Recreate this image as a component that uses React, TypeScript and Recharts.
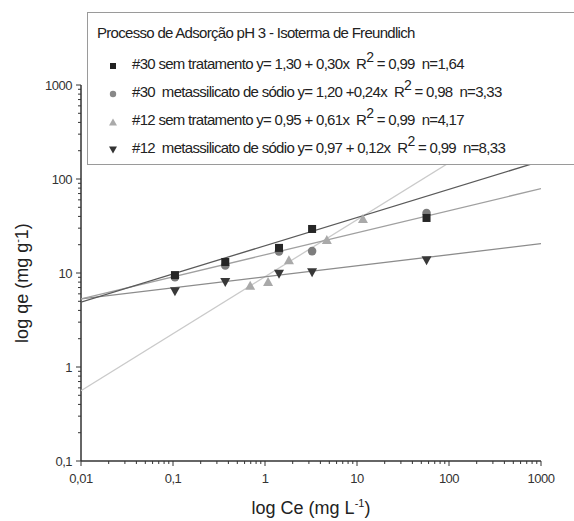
import { ScatterChart, Scatter, XAxis, YAxis } from "recharts";

const FONT = '"Liberation Sans", Arial, sans-serif';

// axis ticks (log decades)
const xMajor = [0.01, 0.1, 1, 10, 100, 1000];
const xMajorLabels = ["0,01", "0,1", "1", "10", "100", "1000"];
const yMajor = [0.1, 1, 10, 100, 1000];
const yMajorLabels = ["0,1", "1", "10", "100", "1000"];
const minorSteps = [2, 3, 4, 5, 6, 7, 8, 9];

// measured points, log Ce vs log qe
const ce30 = [0.105, 0.37, 1.42, 3.25, 57];
const qe30Sem = [9.5, 13.1, 18.5, 29.4, 38.5];
const qe30Meta = [9.0, 12.0, 17.0, 17.1, 43.5];
const qe12Meta = [6.4, 8.0, 9.8, 10.2, 13.7];
const ce12Sem = [0.69, 1.08, 1.82, 4.7, 11.6];
const qe12Sem = [7.3, 8.0, 13.7, 22.4, 37.5];

// fitted lines, read at both ends of the x axis
const fitCe = [0.01, 1000];
const fit30Sem = [4.9, 155];
const fit30Meta = [5.3, 79];
const fit12Sem = [0.56, 600];
const fit12Meta = [5.3, 20.5];

const withMinors = (majors: number[]) => {
  const out = [...majors];
  majors.slice(0, -1).forEach((m) => minorSteps.forEach((s) => out.push(m * s)));
  return out.sort((a, b) => a - b);
};
const xTicks = withMinors(xMajor);
const yTicks = withMinors(yMajor);

const pts = (xs: number[], ys: number[]) => xs.map((x, i) => ({ x, y: ys[i] }));

const XTick = (props: any) => {
  const { x, y, payload } = props;
  const i = xMajor.indexOf(payload.value);
  return (
    <g>
      <line x1={x} x2={x} y1={y} y2={y + (i >= 0 ? 5 : 3)} stroke="#333" strokeWidth={1} />
      {i >= 0 && (
        <text x={x} y={y + 22} textAnchor="middle" fontSize={13} fill="#333" fontFamily={FONT} letterSpacing={-0.5}>
          {xMajorLabels[i]}
        </text>
      )}
    </g>
  );
};

const YTick = (props: any) => {
  const { x, y, payload } = props;
  const i = yMajor.indexOf(payload.value);
  return (
    <g>
      <line x1={x} x2={x - (i >= 0 ? 5 : 3)} y1={y} y2={y} stroke="#333" strokeWidth={1} />
      {i >= 0 && (
        <text x={x - 9} y={y + 4.5} textAnchor="end" fontSize={13} fill="#333" fontFamily={FONT} letterSpacing={-0.5}>
          {yMajorLabels[i]}
        </text>
      )}
    </g>
  );
};

const square = (p: any) => <rect x={p.cx - 4} y={p.cy - 4} width={8} height={8} fill="#262626" />;
const circle = (p: any) => <circle cx={p.cx} cy={p.cy} r={4.3} fill="#7d7d7d" />;
const triUp = (p: any) => (
  <polygon points={`${p.cx - 5},${p.cy + 4} ${p.cx + 5},${p.cy + 4} ${p.cx},${p.cy - 5}`} fill="#a9a9a9" />
);
const triDown = (p: any) => (
  <polygon points={`${p.cx - 5},${p.cy - 4} ${p.cx + 5},${p.cy - 4} ${p.cx},${p.cy + 5}`} fill="#383838" />
);
const none = () => <g />;

const legendRows = [
  { sym: "sq", label: "#30 sem tratamento y= 1,30 + 0,30x", r: "= 0,99", n: "n=1,64" },
  { sym: "ci", label: "#30  metassilicato de sódio y= 1,20 +0,24x", r: "= 0,98", n: "n=3,33" },
  { sym: "up", label: "#12 sem tratamento y= 0,95 + 0,61x", r: "= 0,99", n: "n=4,17" },
  { sym: "dn", label: "#12  metassilicato de sódio y= 0,97 + 0,12x", r: "= 0,99", n: "n=8,33" },
];

const LegendSymbol = ({ sym }: { sym: string }) => (
  <svg width={10} height={10} style={{ position: "absolute", left: 20, top: 6 }}>
    {sym === "sq" && <rect x={2} y={2} width={6} height={6} fill="#222" />}
    {sym === "ci" && <circle cx={5} cy={5} r={3.2} fill="#888" />}
    {sym === "up" && <polygon points="1,8.5 9,8.5 5,1.5" fill="#aaa" />}
    {sym === "dn" && <polygon points="1,1.5 9,1.5 5,8.5" fill="#333" />}
  </svg>
);

export default function App() {
  return (
    <div style={{ position: "fixed", left: 0, top: 0, width: 574, height: 521, overflow: "hidden", background: "#fff" }}>
      <ScatterChart width={574} height={521} margin={{ top: 85, right: 33, bottom: 0, left: 0 }}>
        <XAxis
          dataKey="x"
          type="number"
          scale="log"
          domain={[0.01, 1000]}
          allowDataOverflow
          ticks={xTicks}
          interval={0}
          height={60}
          tickSize={0}
          tickMargin={0}
          tickLine={false}
          tick={<XTick />}
          axisLine={{ stroke: "#333", strokeWidth: 1.5 }}
        />
        <YAxis
          dataKey="y"
          type="number"
          scale="log"
          domain={[0.1, 1000]}
          allowDataOverflow
          ticks={yTicks}
          interval={0}
          width={81}
          tickSize={0}
          tickMargin={0}
          tickLine={false}
          tick={<YTick />}
          axisLine={{ stroke: "#333", strokeWidth: 1.5 }}
        />
        <Scatter data={pts(fitCe, fit12Sem)} line={{ stroke: "#cacaca", strokeWidth: 1.3 }} shape={none} isAnimationActive={false} />
        <Scatter data={pts(fitCe, fit12Meta)} line={{ stroke: "#8c8c8c", strokeWidth: 1.3 }} shape={none} isAnimationActive={false} />
        <Scatter data={pts(fitCe, fit30Meta)} line={{ stroke: "#a0a0a0", strokeWidth: 1.3 }} shape={none} isAnimationActive={false} />
        <Scatter data={pts(fitCe, fit30Sem)} line={{ stroke: "#5a5a5a", strokeWidth: 1.3 }} shape={none} isAnimationActive={false} />
        <Scatter data={pts(ce30, qe30Meta)} shape={circle} isAnimationActive={false} />
        <Scatter data={pts(ce30, qe30Sem)} shape={square} isAnimationActive={false} />
        <Scatter data={pts(ce12Sem, qe12Sem)} shape={triUp} isAnimationActive={false} />
        <Scatter data={pts(ce30, qe12Meta)} shape={triDown} isAnimationActive={false} />
      </ScatterChart>

      <svg width={574} height={521} style={{ position: "absolute", left: 0, top: 0, pointerEvents: "none" }}>
        <text x={311} y={514} textAnchor="middle" fontSize={18} fill="#222" fontFamily={FONT}>
          log Ce (mg L<tspan fontSize={11} dy={-7}>-1</tspan>
          <tspan dy={7}>)</tspan>
        </text>
        <text
          transform="translate(28,283) rotate(-90)"
          textAnchor="middle"
          fontSize={18}
          fill="#222"
          fontFamily={FONT}
        >
          log qe (mg g<tspan fontSize={11} dy={-7}>-</tspan>
          <tspan dy={7}>1)</tspan>
        </text>
      </svg>

      <div
        style={{
          position: "absolute",
          left: 87,
          top: 12,
          width: 500,
          height: 151,
          border: "1.5px solid #9a9a9a",
          background: "#fff",
          fontFamily: FONT,
          color: "#222",
          fontSize: 15,
          letterSpacing: -0.7,
          whiteSpace: "pre",
        }}
      >
        <div style={{ position: "absolute", left: 9, top: 11 }}>Processo de Adsorção pH 3 - Isoterma de Freundlich</div>
        {legendRows.map((r, i) => (
          <div key={i} style={{ position: "absolute", left: 0, top: 42 + i * 28, height: 20, width: 500 }}>
            <LegendSymbol sym={r.sym} />
            <span style={{ position: "absolute", left: 44, top: 0 }}>
              {r.label}  R<span style={{ fontSize: 14, position: "relative", top: -7 }}>2</span> {r.r}  {r.n}
            </span>
          </div>
        ))}
      </div>
    </div>
  );
}
